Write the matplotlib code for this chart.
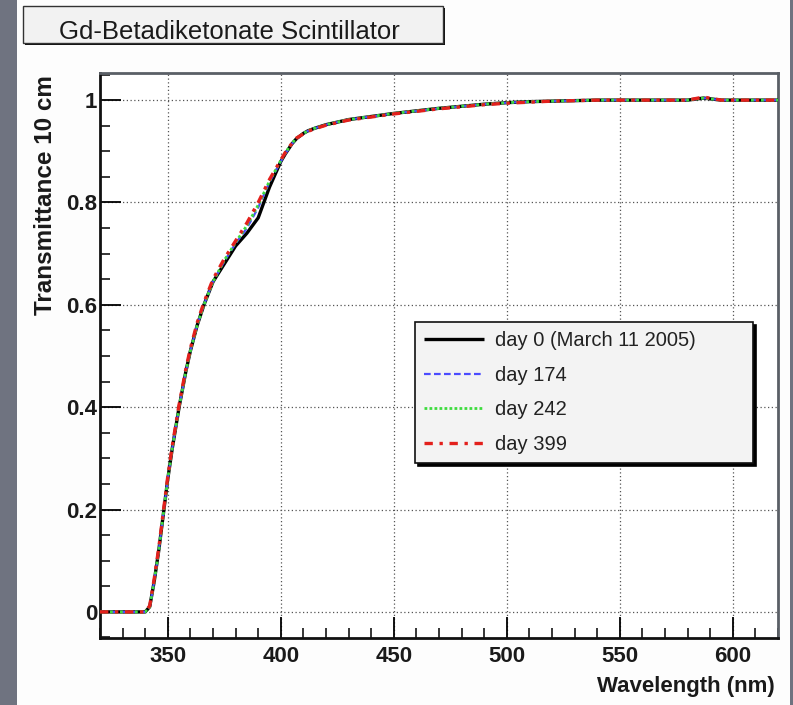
import matplotlib
matplotlib.use("Agg")
import matplotlib.pyplot as plt
from matplotlib.patches import Rectangle
from matplotlib.ticker import MultipleLocator, FixedLocator, FixedFormatter

# ---------------- data ----------------
wavelength = [320, 330, 340, 342, 344, 346, 348, 350, 352, 355, 358, 360, 363, 366,
              370, 375, 380, 385, 390, 395, 400, 402, 405, 407, 410, 412, 415, 420,
              430, 440, 450, 460, 470, 480, 490, 500, 510, 520, 530, 540, 550, 560,
              570, 580, 587, 595, 600, 610, 620]

day0 = [0, 0, 0, 0.01, 0.06, 0.12, 0.19, 0.26, 0.32, 0.40, 0.47, 0.51, 0.56, 0.60,
        0.645, 0.68, 0.715, 0.74, 0.77, 0.83, 0.88, 0.895, 0.915, 0.925, 0.935, 0.94,
        0.945, 0.952, 0.962, 0.968, 0.974, 0.979, 0.984, 0.988, 0.992, 0.995, 0.997,
        0.998, 0.999, 1.0, 1.0, 1.0, 1.0, 1.0, 1.004, 1.0, 1.0, 1.0, 1.0]

day174 = [0, 0, 0, 0.01, 0.06, 0.12, 0.19, 0.26, 0.32, 0.40, 0.47, 0.51, 0.56, 0.60,
          0.645, 0.685, 0.72, 0.75, 0.79, 0.84, 0.88, 0.895, 0.915, 0.925, 0.935, 0.94,
          0.945, 0.952, 0.962, 0.968, 0.974, 0.979, 0.984, 0.988, 0.992, 0.995, 0.997,
          0.998, 0.999, 1.0, 1.0, 1.0, 1.0, 1.0, 1.004, 1.0, 1.0, 1.0, 1.0]

day242 = [0, 0, 0, 0.01, 0.06, 0.12, 0.19, 0.26, 0.32, 0.40, 0.47, 0.51, 0.56, 0.60,
          0.645, 0.687, 0.722, 0.755, 0.795, 0.842, 0.882, 0.897, 0.916, 0.926, 0.935, 0.94,
          0.945, 0.952, 0.962, 0.968, 0.974, 0.979, 0.984, 0.988, 0.992, 0.995, 0.997,
          0.998, 0.999, 1.0, 1.0, 1.0, 1.0, 1.0, 1.004, 1.0, 1.0, 1.0, 1.0]

day399 = [0, 0, 0, 0.012, 0.065, 0.125, 0.195, 0.265, 0.325, 0.405, 0.475, 0.515, 0.565, 0.605,
          0.65, 0.69, 0.725, 0.76, 0.80, 0.845, 0.883, 0.898, 0.916, 0.926, 0.934, 0.939,
          0.944, 0.951, 0.961, 0.967, 0.973, 0.978, 0.983, 0.987, 0.991, 0.994, 0.996,
          0.998, 0.999, 1.0, 1.0, 1.0, 1.0, 1.0, 1.006, 1.0, 1.0, 1.0, 1.0]

series_labels = ["day 0 (March 11 2005)", "day 174", "day 242", "day 399"]
title_text = "Gd-Betadiketonate Scintillator"
x_label = "Wavelength (nm)"
y_label = "Transmittance 10 cm"
x_major = [350, 400, 450, 500, 550, 600]
y_major = [0, 0.2, 0.4, 0.6, 0.8, 1.0]
y_major_labels = ["0", "0.2", "0.4", "0.6", "0.8", "1"]

# ---------------- figure ----------------
plt.rcParams['font.family'] = ['Liberation Sans', 'DejaVu Sans']
W, H = 793, 705
fig = plt.figure(figsize=(W / 100, H / 100), dpi=100)
fig.patch.set_facecolor('#fdfdfd')

# grey side strips
fig.add_artist(Rectangle((0, 0), 17 / W, 1, transform=fig.transFigure,
                         facecolor='#6f7380', edgecolor='none', zorder=0))
fig.add_artist(Rectangle((790 / W, 0), 3 / W, 1, transform=fig.transFigure,
                         facecolor='#6f7380', edgecolor='none', zorder=0))

ax = fig.add_axes([100 / W, 1 - 638 / H, 678 / W, 565 / H])
ax.set_facecolor('white')

ax.plot(wavelength, day0, color='black', lw=2.4, solid_capstyle='butt', zorder=3)
ax.plot(wavelength, day174, color='#4b4bff', lw=1.6, linestyle=(0, (3, 1.5)), zorder=4)
ax.plot(wavelength, day242, color='#3ddc3d', lw=2.0, linestyle=(0, (1, 0.8)), zorder=5)
ax.plot(wavelength, day399, color='#e3201c', lw=2.4, linestyle=(0, (2.5, 2, 1, 2)), zorder=6)

ax.set_xlim(320, 620)
ax.set_ylim(-0.051, 1.053)

ax.xaxis.set_major_locator(FixedLocator(x_major))
ax.xaxis.set_minor_locator(MultipleLocator(10))
ax.yaxis.set_major_locator(FixedLocator(y_major))
ax.yaxis.set_major_formatter(FixedFormatter(y_major_labels))
ax.yaxis.set_minor_locator(MultipleLocator(0.05))

ax.tick_params(axis='both', which='major', direction='in', length=15, width=1.3,
               labelsize=16, color='black')
ax.tick_params(axis='both', which='minor', direction='in', length=7, width=1.1,
               color='black')
ax.tick_params(axis='x', which='major', pad=6)
ax.tick_params(axis='y', which='major', pad=2)
for lab in ax.get_xticklabels() + ax.get_yticklabels():
    lab.set_fontweight('bold')
    lab.set_color('#1a1a1a')

ax.grid(True, which='major', color='#555555', linestyle=(0, (1, 2)), lw=0.9)

for side in ['left', 'bottom']:
    ax.spines[side].set_linewidth(2.0)
    ax.spines[side].set_color('#111111')
for side in ['top', 'right']:
    ax.spines[side].set_linewidth(2.0)
    ax.spines[side].set_color('#5a5f66')

ax.set_xlabel(x_label, fontsize=16, fontweight='bold', color='#1a1a1a', ha='right')
ax.xaxis.set_label_coords(0.9956, -0.068)
ax.set_ylabel(y_label, fontsize=17.5, fontweight='bold', color='#1a1a1a', ha='right')
ax.yaxis.set_label_coords(-0.063, 0.996)

leg = ax.legend(series_labels, loc='upper left',
                bbox_to_anchor=(415 / W, 1 - 463 / H, 338 / W, 141 / H),
                bbox_transform=fig.transFigure, mode='expand', borderaxespad=0,
                fontsize=14.5, handlelength=3.0, handletextpad=0.5,
                labelspacing=0.78, borderpad=0.45, fancybox=False,
                facecolor='#f3f3f3', edgecolor='#111111', framealpha=1,
                shadow={'color': 'black', 'alpha': 1.0})
leg.get_frame().set_linewidth(1.2)
for t in leg.get_texts():
    t.set_color('#222222')

# title box
fig.add_artist(Rectangle((25 / W, 1 - 45 / H), 420 / W, 37 / H, transform=fig.transFigure,
                         facecolor='#111111', edgecolor='none', zorder=5))
fig.add_artist(Rectangle((23 / W, 1 - 43 / H), 420 / W, 37 / H, transform=fig.transFigure,
                         facecolor='#f2f2f2', edgecolor='#333333', lw=1.0, zorder=6))
fig.text(229 / W, 1 - 39 / H, title_text, ha='center', va='baseline', fontsize=18.5,
         color='#1a1a1a', zorder=7)

fig.savefig('out.png', dpi=100, facecolor=fig.get_facecolor())
